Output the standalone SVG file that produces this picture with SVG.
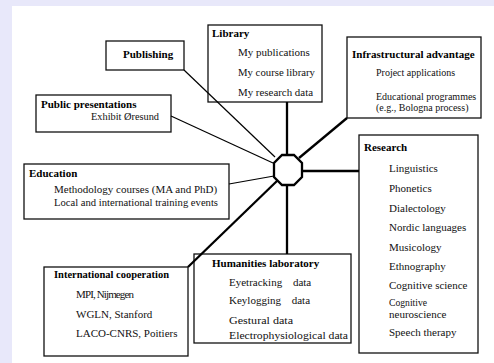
<svg xmlns="http://www.w3.org/2000/svg" width="494" height="363" viewBox="0 0 494 363">
<style>
.box{fill:none;stroke:#111;stroke-width:1.3}
.h{font-family:"Liberation Serif","Times New Roman",serif;font-weight:bold;font-size:11px;fill:#000}
.t{font-family:"Liberation Serif","Times New Roman",serif;font-size:11px;fill:#111}
.s{font-size:10px}
.thin{stroke:#000;stroke-width:1.2;fill:none}
.thick{stroke:#000;stroke-width:2.3;fill:none}
</style>
<rect x="0" y="0" width="494" height="363" fill="#e8e8fa"/>
<rect x="12" y="6" width="482" height="357" fill="#ffffff"/>

<g id="publishing"><rect class="box" x="106" y="41" width="78" height="29"/><text class="h" x="123" y="58">Publishing</text></g>
<g id="library"><rect class="box" x="208" y="25" width="114" height="77"/><text class="h" x="212" y="37">Library</text><text class="t" x="238" y="56">My publications</text><text class="t" x="238" y="76" textLength="77" lengthAdjust="spacingAndGlyphs">My course library</text><text class="t" x="238" y="96" textLength="75" lengthAdjust="spacingAndGlyphs">My research data</text></g>
<g id="infrastructural"><rect class="box" x="347" y="37" width="134" height="81"/><text class="h" x="352" y="58">Infrastructural advantage</text><text class="t s" x="376" y="76">Project applications</text><text class="t s" x="376" y="100">Educational programmes</text><text class="t s" x="376" y="111">(e.g., Bologna process)</text></g>
<g id="public"><rect class="box" x="36" y="95" width="135" height="37"/><text class="h" x="41" y="108">Public presentations</text><text class="t" x="91" y="120" textLength="68" lengthAdjust="spacingAndGlyphs">Exhibit Øresund</text></g>
<g id="education"><rect class="box" x="24" y="164" width="205" height="55"/><text class="h" x="29" y="177">Education</text><text class="t" x="54" y="193">Methodology courses (MA and PhD)</text><text class="t" x="54" y="206" textLength="164" lengthAdjust="spacingAndGlyphs">Local and international training events</text></g>
<g id="research"><rect class="box" x="359" y="135" width="119" height="218"/><text class="h" x="364" y="151">Research</text><text class="t" x="389" y="172">Linguistics</text><text class="t" x="389" y="192">Phonetics</text><text class="t" x="389" y="212">Dialectology</text><text class="t" x="389" y="231">Nordic languages</text><text class="t" x="389" y="251">Musicology</text><text class="t" x="389" y="270">Ethnography</text><text class="t" x="389" y="289">Cognitive science</text><text class="t" x="389" y="306" textLength="38" lengthAdjust="spacingAndGlyphs">Cognitive</text><text class="t" x="389" y="318" font-size="9.6">neuroscience</text><text class="t" x="389" y="336">Speech therapy</text></g>
<g id="international"><rect class="box" x="44" y="267" width="144" height="89"/><text class="h" x="54" y="278" textLength="115" lengthAdjust="spacingAndGlyphs">International cooperation</text><text class="t" x="76" y="298" textLength="58" lengthAdjust="spacing">MPI, Nijmegen</text><text class="t" x="76" y="318">WGLN, Stanford</text><text class="t" x="76" y="337">LACO-CNRS, Poitiers</text></g>
<g id="humanities"><rect class="box" x="194" y="254" width="157" height="89"/><text class="h" x="212" y="267">Humanities laboratory</text><text class="t" x="229" y="286">Eyetracking<tspan dx="8"> data</tspan></text><text class="t" x="229" y="304">Keylogging<tspan dx="8"> data</tspan></text><text class="t" x="229" y="324" textLength="64" lengthAdjust="spacingAndGlyphs">Gestural data</text><text class="t" x="229" y="339" textLength="119" lengthAdjust="spacingAndGlyphs">Electrophysiological data</text></g>

<g id="connectors">
<line class="thin" x1="184" y1="70" x2="275" y2="157"/>
<line class="thin" x1="171" y1="116" x2="273" y2="163"/>
<line class="thin" x1="229" y1="184" x2="274" y2="176"/>
<line class="thick" x1="188" y1="267" x2="278" y2="180"/>
<line class="thick" x1="347" y1="118" x2="299" y2="158"/>
<line class="thick" x1="287" y1="102" x2="287" y2="155"/>
<line class="thick" x1="302" y1="171" x2="359" y2="171"/>
<line class="thick" x1="287" y1="185" x2="287" y2="254"/>
</g>
<g id="hub"><polygon points="282,155 294,155 302,163 302,177 294,185 282,185 274,177 274,163" fill="#fff" stroke="#000" stroke-width="2.3"/></g>
</svg>
